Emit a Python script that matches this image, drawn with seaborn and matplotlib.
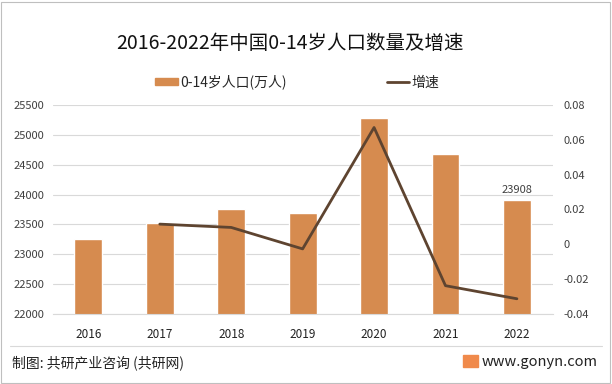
import seaborn as sns
import matplotlib.pyplot as plt
import matplotlib.patches as mpatches
import matplotlib.lines as mlines
import pandas as pd
import numpy as np

years = ['2016', '2017', '2018', '2019', '2020', '2021', '2022']
population = [23252, 23522, 23751, 23689, 25277, 24678, 23908]
growth = [np.nan, 0.0116, 0.0097, -0.0026, 0.0670, -0.0237, -0.0312]

bar_color = '#D68B4F'
line_color = '#5E4430'
grid_color = '#D9D9D9'
text_color = '#404040'

sns.set_style('white')
plt.rcParams['font.family'] = ['Noto Sans CJK SC', 'DejaVu Sans']

df = pd.DataFrame({'year': years, 'population': population, 'growth': growth})
df['pos'] = np.arange(len(years))

fig = plt.figure(figsize=(6.12, 3.84), dpi=100)
ax = fig.add_axes([0.086, 0.182, 0.817, 0.545])

sns.barplot(data=df, x='year', y='population', color=bar_color, width=0.39,
            saturation=1, ax=ax, zorder=2)
ax.set_ylim(22000, 25500)
ax.set_yticks(np.arange(22000, 25501, 500))
ax.set_xlim(-0.5, len(years) - 0.5)
ax.yaxis.grid(True, color=grid_color, linewidth=0.8, zorder=0)
ax.set_axisbelow(True)
ax.set_xlabel('')
ax.set_ylabel('')
for s in ['top', 'right', 'left']:
    ax.spines[s].set_visible(False)
ax.spines['bottom'].set_color(grid_color)
ax.tick_params(axis='both', length=0, labelsize=8, colors=text_color, pad=6)
ax.tick_params(axis='x', colors='#222222', labelsize=8.5, pad=10)

# data label on the last bar
ax.text(len(years) - 1, population[-1] + 90, str(population[-1]),
        ha='center', va='bottom', fontsize=8, color=text_color)

ax2 = ax.twinx()
sns.lineplot(data=df, x='pos', y='growth', color=line_color, linewidth=2,
             ax=ax2, zorder=3)
ax2.set_ylim(-0.04, 0.08)
ax2.set_yticks(np.arange(-0.04, 0.081, 0.02))
ax2.set_yticklabels(['-0.04', '-0.02', '0', '0.02', '0.04', '0.06', '0.08'])
ax2.set_ylabel('')
for s in ['top', 'right', 'left', 'bottom']:
    ax2.spines[s].set_visible(False)
ax2.tick_params(axis='y', length=0, labelsize=8, colors=text_color, pad=8)

fig.text(0.474, 0.888, '2016-2022年中国0-14岁人口数量及增速', ha='center', va='center',
         fontsize=14, color='#111111')

handles = [mpatches.Patch(color=bar_color, label='0-14岁人口(万人)'),
           mlines.Line2D([], [], color=line_color, linewidth=2, label='增速')]
fig.legend(handles=handles, loc='center', bbox_to_anchor=(0.486, 0.786), ncol=2,
           frameon=False, fontsize=10, columnspacing=7.2, handlelength=1.6,
           handleheight=0.45, handletextpad=0.2)

# footer
fig.add_artist(mlines.Line2D([0.016, 0.984], [0.10, 0.10], color=grid_color,
                             linewidth=0.8))
fig.text(0.02, 0.055, '制图: 共研产业咨询 (共研网)', ha='left', va='center',
         fontsize=10, color='#222222')
fig.add_artist(mpatches.Rectangle((0.757, 0.044), 0.024, 0.031, color='#F08A4B',
                                  transform=fig.transFigure))
fig.text(0.976, 0.058, 'www.gonyn.com', ha='right', va='center', fontsize=10.5,
         color='#222222')

# outer frame
fig.add_artist(mpatches.Rectangle((0.002, 0.003), 0.995, 0.993, fill=False,
                                  edgecolor='#BFBFBF', linewidth=0.8,
                                  transform=fig.transFigure))

fig.savefig('out.png', dpi=100)
